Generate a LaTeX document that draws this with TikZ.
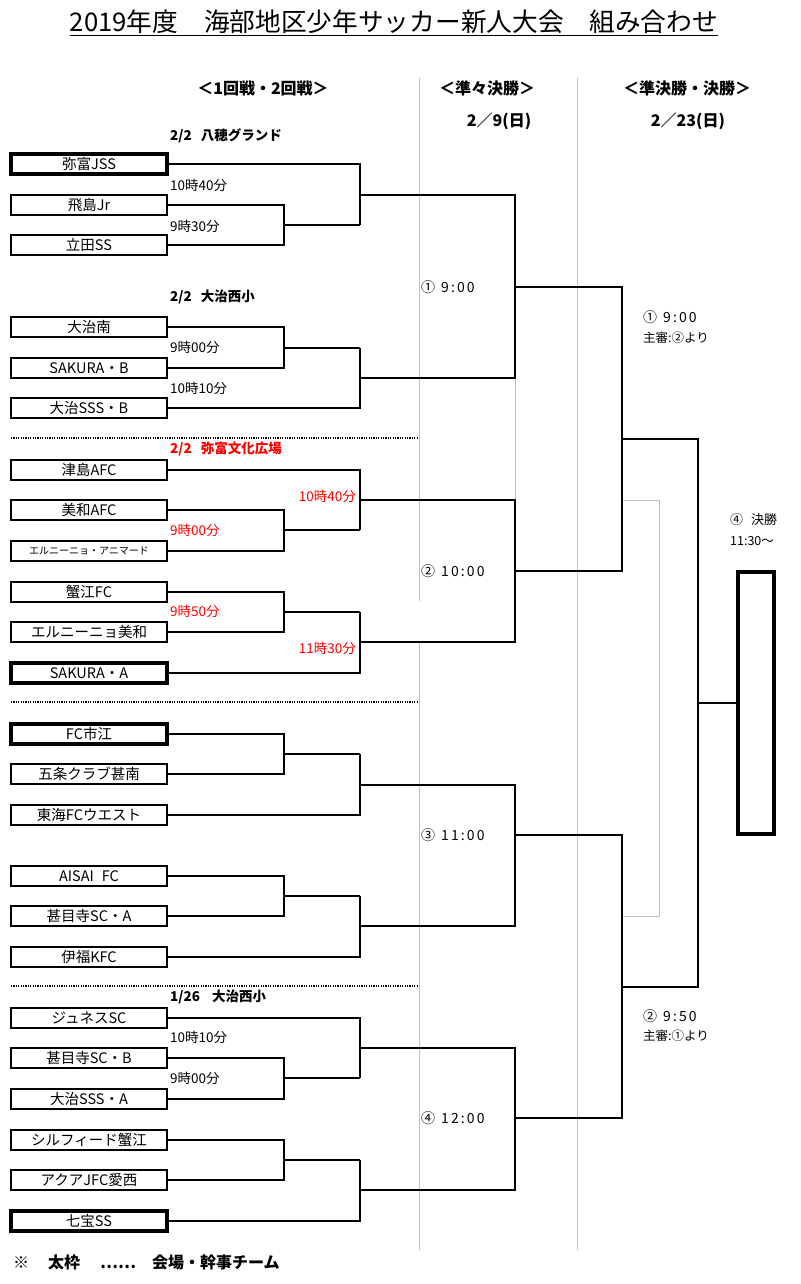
\documentclass[tikz,border=0pt]{standalone}
\usepackage{fontspec}
\setmainfont{Noto Sans CJK JP}
\newfontfamily\widefont[LetterSpace=15]{Noto Sans CJK JP}
\begin{document}
\begin{tikzpicture}[x=1pt,y=-1pt,
  team/.style={draw,line width=1.4pt,minimum width=156pt,minimum height=20pt,inner sep=0pt,font=\fontsize{14.5}{14.5}\selectfont},
  host/.style={team,line width=4pt},
  br/.style={line width=1.5pt},
  gl/.style={draw=black!25,line width=0.9pt},
  sep/.style={line width=1.2pt,dash pattern=on 1.2pt off 1.2pt},
  tm/.style={font=\fontsize{13.5}{13.5}\selectfont,inner sep=0pt},
  tmr/.style={tm,text=red},
  sec/.style={font=\bfseries\fontsize{13.5}{13.5}\selectfont,anchor=west,inner sep=0pt},
  hdr/.style={font=\bfseries\fontsize{16}{16}\selectfont,inner sep=0pt},
  lab/.style={font=\widefont\fontsize{14}{14}\selectfont,anchor=west,inner sep=0pt},
  slab/.style={font=\fontsize{12.5}{12.5}\selectfont,anchor=west,inner sep=0pt}]
\useasboundingbox[fill=white] (0,0) rectangle (800,1284);

% title
\node[font=\fontsize{25.7}{25.7}\selectfont,inner sep=0pt] (title) at (394,22) {2019年度　海部地区少年サッカー新人大会　組み合わせ};
\draw[line width=1.2pt] ([yshift=-4pt]title.base west) -- ([yshift=-4pt]title.base east);

% headers
\node[hdr] (h1) at (263,88) {＜1回戦・2回戦＞};
\node[hdr] (h2) at (487,88) {＜準々決勝＞};
\node[hdr] (h3) at (687,88) {＜準決勝・決勝＞};
\node[hdr] (d2) at (499,121) {2／9(日)};
\node[hdr] (d3) at (688,121) {2／23(日)};

% gray grid lines
\draw[gl] (419,78) -- (419,601);
\draw[gl] (419,643) -- (419,1250);
\draw[gl] (577,78) -- (577,1250);
\draw[gl] (515,378) -- (515,500);
\draw[gl] (622,500) -- (659,500) -- (659,916) -- (622,916);

% separators
\draw[sep] (11,438) -- (419,438);
\draw[sep] (11,702) -- (419,702);
\draw[sep] (11,986) -- (419,986);

% section labels
\node[sec] (v1) at (170,136) {2/2\hspace{9pt}八穂グランド};
\node[sec] (v2) at (170,297) {2/2\hspace{9pt}大治西小};
\node[sec,text=red] (v3) at (170,449) {2/2\hspace{9pt}弥富文化広場};
\node[sec] (v4) at (170,997) {1/26\hspace{12pt}大治西小};

% teams
\node[host] (t1) at (89,164) {弥富JSS};
\node[team] (t2) at (89,205) {飛島Jr};
\node[team] (t3) at (89,245) {立田SS};
\node[team] (t4) at (89,327) {大治南};
\node[team] (t5) at (89,368) {SAKURA・B};
\node[team] (t6) at (89,408) {大治SSS・B};
\node[team] (t7) at (89,470) {津島AFC};
\node[team] (t8) at (89,510) {美和AFC};
\node[team,font=\fontsize{10}{10}\selectfont] (t9) at (89,551) {エルニーニョ・アニマード};
\node[team] (t10) at (89,592) {蟹江FC};
\node[team] (t11) at (89,632) {エルニーニョ美和};
\node[host] (t12) at (89,673) {SAKURA・A};
\node[host] (t13) at (89,734) {FC市江};
\node[team] (t14) at (89,774) {五条クラブ甚南};
\node[team] (t15) at (89,815) {東海FCウエスト};
\node[team] (t16) at (89,876) {AISAI\hspace{8pt}FC};
\node[team] (t17) at (89,916) {甚目寺SC・A};
\node[team] (t18) at (89,957) {伊福KFC};
\node[team] (t19) at (89,1018) {ジュネスSC};
\node[team] (t20) at (89,1058) {甚目寺SC・B};
\node[team] (t21) at (89,1099) {大治SSS・A};
\node[team] (t22) at (89,1140) {シルフィード蟹江};
\node[team] (t23) at (89,1180) {アクアJFC愛西};
\node[host] (t24) at (89,1221) {七宝SS};

% junction coordinates
\coordinate (j1) at (284,225);  \coordinate (k1) at (360,225);  \coordinate (o1) at (360,195);
\coordinate (j2) at (284,348);  \coordinate (k2) at (360,348);  \coordinate (o2) at (360,378);
\coordinate (j3) at (284,530);  \coordinate (k3) at (360,530);  \coordinate (o3) at (360,500);
\coordinate (j4) at (284,612);  \coordinate (k4) at (360,612);  \coordinate (o4) at (360,642);
\coordinate (j5) at (284,754);  \coordinate (k5) at (360,754);  \coordinate (o5) at (360,785);
\coordinate (j6) at (284,896);  \coordinate (k6) at (360,896);  \coordinate (o6) at (360,926);
\coordinate (j7) at (284,1078); \coordinate (k7) at (360,1078); \coordinate (o7) at (360,1048);
\coordinate (j8) at (284,1160); \coordinate (k8) at (360,1160); \coordinate (o8) at (360,1190);
\coordinate (q1) at (515,287);  \coordinate (q2) at (515,571);
\coordinate (q3) at (515,835);  \coordinate (q4) at (515,1118);
\coordinate (s1) at (622,439);  \coordinate (s2) at (622,987);
\coordinate (f) at (698,703);

% first rounds
\draw[br] (t2.east) -| (j1) |- (t3.east);  \draw[br] (j1) -- (k1);  \draw[br] (t1.east) -| (k1);
\draw[br] (t4.east) -| (j2) |- (t5.east);  \draw[br] (j2) -- (k2);  \draw[br] (t6.east) -| (k2);
\draw[br] (t8.east) -| (j3) |- (t9.east);  \draw[br] (j3) -- (k3);  \draw[br] (t7.east) -| (k3);
\draw[br] (t10.east) -| (j4) |- (t11.east); \draw[br] (j4) -- (k4); \draw[br] (t12.east) -| (k4);
\draw[br] (t13.east) -| (j5) |- (t14.east); \draw[br] (j5) -- (k5); \draw[br] (t15.east) -| (k5);
\draw[br] (t16.east) -| (j6) |- (t17.east); \draw[br] (j6) -- (k6); \draw[br] (t18.east) -| (k6);
\draw[br] (t20.east) -| (j7) |- (t21.east); \draw[br] (j7) -- (k7); \draw[br] (t19.east) -| (k7);
\draw[br] (t22.east) -| (j8) |- (t23.east); \draw[br] (j8) -- (k8); \draw[br] (t24.east) -| (k8);

% quarter finals
\draw[br] (o1) -| (q1);  \draw[br] (o2) -| (q1);
\draw[br] (o3) -| (q2);  \draw[br] (o4) -| (q2);
\draw[br] (o5) -| (q3);  \draw[br] (o6) -| (q3);
\draw[br] (o7) -| (q4);  \draw[br] (o8) -| (q4);
% semi finals
\draw[br] (q1) -| (s1);  \draw[br] (q2) -| (s1);
\draw[br] (q3) -| (s2);  \draw[br] (q4) -| (s2);
% final
\node[draw,line width=4pt,minimum width=36pt,minimum height=262pt,inner sep=0pt] (fin) at (756,703) {};
\draw[br] (s1) -| (f);  \draw[br] (s2) -| (f);
\draw[br] (f) -- (fin.west);

% match times
\node[tm,anchor=west] (m1) at (170,185) {10時40分};
\node[tm,anchor=west] (m2) at (170,226) {9時30分};
\node[tm,anchor=west] (m3) at (170,347) {9時00分};
\node[tm,anchor=west] (m4) at (170,388) {10時10分};
\node[tmr,anchor=east] (m5) at (356,496) {10時40分};
\node[tmr,anchor=west] (m6) at (170,530) {9時00分};
\node[tmr,anchor=west] (m7) at (170,611) {9時50分};
\node[tmr,anchor=east] (m8) at (356,648) {11時30分};
\node[tm,anchor=west] (m9) at (170,1037) {10時10分};
\node[tm,anchor=west] (m10) at (170,1078) {9時00分};

% round labels
\node[lab] (l1) at (421,287) {①\hspace{6pt}9:00};
\node[lab] (l2) at (421,571) {②\hspace{6pt}10:00};
\node[lab] (l3) at (421,835) {③\hspace{6pt}11:00};
\node[lab] (l4) at (421,1118) {④\hspace{6pt}12:00};
\node[lab] (sl1) at (643,317) {①\hspace{6pt}9:00};
\node[slab] (sr1) at (643,338) {主審:②より};
\node[lab] (sl2) at (643,1016) {②\hspace{6pt}9:50};
\node[slab] (sr2) at (643,1036) {主審:①より};
\node[slab,font=\fontsize{13}{13}\selectfont] (fl1) at (730,520) {④\hspace{8pt}決勝};
\node[slab] (fl2) at (730,541) {11:30〜};

% footer
\node[font=\bfseries\fontsize{16}{16}\selectfont,anchor=west,inner sep=0pt] (foot) at (13,1262) {※\hspace{19pt}太枠\hspace{20pt}⋯⋯\hspace{16pt}会場・幹事チーム};
\end{tikzpicture}
\end{document}
